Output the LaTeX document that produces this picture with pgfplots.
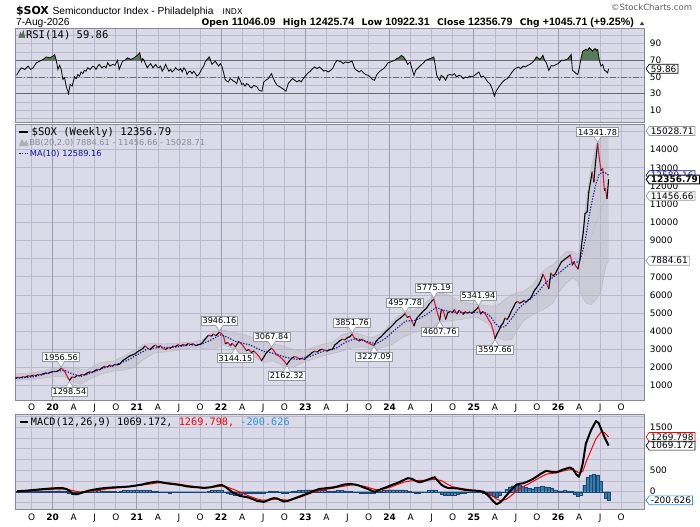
\documentclass[border=0pt]{standalone}
\usepackage{fontspec}
\usepackage{pgfplots}
\usepackage{pgfplotstable}
\pgfplotsset{compat=1.18}
\usetikzlibrary{shapes.symbols}
\setmainfont{DejaVu Sans}
\newfontfamily\lib{Liberation Sans}
\newfontfamily\dvs{DejaVu Sans}
\newfontfamily\dvm{DejaVu Sans Mono}
\newcommand\fs[1]{\fontsize{#1}{#1}\selectfont}
\newcommand\ohb{\dvs\bfseries\fs{9.2bp}}
\newcommand\ohv{\lib\fs{10.7bp}}

\definecolor{panelbg}{RGB}{218,218,232}
\definecolor{gridc}{RGB}{186,186,204}
\definecolor{yeargrid}{RGB}{155,155,176}
\definecolor{borderc}{RGB}{135,135,150}
\definecolor{pricered}{RGB}{222,20,60}
\definecolor{manavy}{RGB}{20,20,150}
\definecolor{bbline}{RGB}{186,186,196}
\definecolor{bbfill}{RGB}{178,178,184}
\definecolor{bbtext}{RGB}{140,140,152}
\definecolor{bbicon}{RGB}{175,175,185}
\definecolor{rsigreen}{RGB}{88,124,88}
\definecolor{histblue}{RGB}{52,125,170}
\definecolor{histdark}{RGB}{25,70,115}
\definecolor{histtext}{RGB}{40,150,210}
\definecolor{boxgray}{RGB}{150,150,162}
\definecolor{rsiline}{RGB}{105,105,115}

\pgfplotsset{
  panel/.style={
    scale only axis, width=633bp, anchor=south west,
    xmin=2019.564, xmax=2027.028,
    axis line style={draw=borderc, line width=0.9bp},
    major tick length=0pt, minor tick length=0pt,
    scaled x ticks=false, scaled y ticks=false,
    xtick={2019.75,2020.25,2020.5,2020.75,2021.25,2021.5,2021.75,2022.25,2022.5,2022.75,2023.25,2023.5,2023.75,2024.25,2024.5,2024.75,2025.25,2025.5,2025.75,2026.25,2026.5,2026.75},
    extra x ticks={2020,2021,2022,2023,2024,2025,2026},
    extra x tick style={major grid style={draw=yeargrid, line width=0.8bp}},
    xmajorgrids=true, ymajorgrids=true, yminorgrids=true,
    major grid style={draw=gridc, line width=0.7bp},
    minor grid style={draw=gridc, line width=0.7bp},
    yticklabel pos=right,
    yticklabel style={font=\dvs\fs{9bp}, inner sep=0pt, anchor=west, xshift=5bp},
    xticklabel style={font=\dvs\fs{9bp}, inner sep=0pt, anchor=north, yshift=-4bp},
    /pgf/number format/1000 sep={},
    /pgf/number format/assume math mode=true,
    clip=false,
  },
  xlab/.style={
    xticklabels={O,A,J,O,A,J,O,A,J,O,A,J,O,A,J,O,A,J,O,A,J,O},
    extra x tick labels={\textbf{20},\textbf{21},\textbf{22},\textbf{23},\textbf{24},\textbf{25},\textbf{26}},
  },
  nolab/.style={xticklabels={}, extra x tick labels={}},
}
\tikzset{
  rbox/.style={signal, signal to=west, signal pointer angle=110, draw=boxgray, fill=white,
    line width=0.7bp, inner xsep=1.6bp, inner ysep=1.1bp, font=\dvs\fs{9bp}, anchor=west, text=black},
  callout/.style={draw=boxgray, fill=white, line width=0.7bp, inner xsep=1.5bp, inner ysep=1.4bp,
    font=\dvs\fs{8.2bp}, text=black},
}
\newcommand\peak[3]{%
  \node[callout, anchor=south] at ([yshift=6.5bp]axis cs:#1,#2) {#3};
  \fill[white] ([shift={(-3.5bp,7bp)}]axis cs:#1,#2) -- ([yshift=1bp]axis cs:#1,#2) -- ([shift={(3.5bp,7bp)}]axis cs:#1,#2) -- cycle;
  \draw[boxgray, line width=0.6bp] ([shift={(-3.5bp,6.6bp)}]axis cs:#1,#2) -- ([yshift=1bp]axis cs:#1,#2) -- ([shift={(3.5bp,6.6bp)}]axis cs:#1,#2);
}
\newcommand\trough[3]{%
  \node[callout, anchor=north] at ([yshift=-6.5bp]axis cs:#1,#2) {#3};
  \fill[white] ([shift={(-3.5bp,-7bp)}]axis cs:#1,#2) -- ([yshift=-1bp]axis cs:#1,#2) -- ([shift={(3.5bp,-7bp)}]axis cs:#1,#2) -- cycle;
  \draw[boxgray, line width=0.6bp] ([shift={(-3.5bp,-6.6bp)}]axis cs:#1,#2) -- ([yshift=-1bp]axis cs:#1,#2) -- ([shift={(3.5bp,-6.6bp)}]axis cs:#1,#2);
}

\pgfplotstableread{
t c m
2019.56 1420 0
2019.59 1455 1
2019.62 1440 0
2019.65 1490 1
2019.68 1475 0
2019.71 1540 1
2019.74 1525 0
2019.77 1575 1
2019.80 1560 0
2019.83 1620 1
2019.86 1605 0
2019.89 1660 0
2019.92 1700 1
2019.95 1690 0
2019.98 1750 0
2020.01 1790 1
2020.04 1780 0
2020.07 1830 0
2020.10 1956.56 1
2020.13 1880 1
2020.15 1720 1
2020.18 1450 1
2020.20 1298.54 0
2020.23 1480 1
2020.26 1450 0
2020.29 1560 1
2020.32 1540 0
2020.35 1620 1
2020.38 1600 0
2020.41 1700 0
2020.44 1760 1
2020.47 1740 0
2020.50 1820 0
2020.53 1900 1
2020.56 1880 0
2020.59 2000 0
2020.62 2060 1
2020.65 2040 0
2020.68 2130 1
2020.71 2080 0
2020.74 2170 1
2020.77 2150 0
2020.80 2200 0
2020.83 2380 0
2020.86 2460 0
2020.89 2560 0
2020.92 2650 0
2020.95 2700 0
2020.98 2760 0
2021.01 2880 0
2021.04 2950 0
2021.07 3050 0
2021.10 3190 1
2021.13 3060 1
2021.16 2980 0
2021.19 3150 0
2021.22 3230 1
2021.25 3120 0
2021.28 3200 1
2021.31 3060 1
2021.34 2990 0
2021.37 3100 1
2021.40 3060 0
2021.43 3180 1
2021.46 3160 0
2021.49 3250 1
2021.52 3200 0
2021.55 3260 1
2021.58 3230 0
2021.61 3320 1
2021.64 3270 0
2021.67 3300 1
2021.70 3200 0
2021.73 3260 0
2021.76 3290 0
2021.79 3440 0
2021.82 3620 0
2021.85 3780 1
2021.88 3730 0
2021.91 3830 1
2021.94 3760 0
2021.98 3946.16 1
2022.01 3840 1
2022.03 3720 1
2022.05 3320 0
2022.08 3380 1
2022.11 3200 0
2022.13 3330 1
2022.15 3250 1
2022.17 3144.15 0
2022.21 3440 1
2022.24 3310 1
2022.27 3150 1
2022.30 2930 0
2022.33 2990 1
2022.36 2830 0
2022.39 2910 1
2022.42 2770 1
2022.45 2610 1
2022.48 2380 0
2022.51 2600 0
2022.54 2830 0
2022.57 2950 0
2022.60 3067.84 1
2022.63 2900 1
2022.66 2700 1
2022.69 2620 1
2022.72 2500 1
2022.75 2350 1
2022.78 2162.32 0
2022.81 2360 0
2022.84 2520 0
2022.87 2600 1
2022.90 2570 1
2022.93 2460 0
2022.96 2500 1
2022.99 2440 0
2023.02 2600 0
2023.05 2700 0
2023.08 2820 0
2023.11 2900 1
2023.14 2860 0
2023.17 2960 0
2023.20 3010 1
2023.23 2950 1
2023.26 2910 0
2023.29 2980 0
2023.32 2990 0
2023.35 3250 0
2023.38 3350 0
2023.41 3480 0
2023.44 3560 1
2023.47 3520 0
2023.50 3650 0
2023.53 3700 0
2023.555 3851.76 1
2023.58 3640 1
2023.61 3540 1
2023.64 3460 0
2023.67 3560 1
2023.70 3480 1
2023.73 3380 1
2023.76 3330 1
2023.79 3250 1
2023.815 3227.09 0
2023.84 3440 0
2023.87 3600 0
2023.90 3700 0
2023.93 3850 0
2023.96 4000 0
2023.99 4120 0
2024.02 4250 0
2024.05 4400 0
2024.08 4560 0
2024.12 4700 0
2024.155 4830 0
2024.185 4957.78 1
2024.21 4760 0
2024.24 4820 1
2024.265 4560 1
2024.29 4290 0
2024.32 4700 0
2024.35 4850 0
2024.38 5010 0
2024.41 5150 0
2024.44 5280 0
2024.47 5500 0
2024.50 5650 0
2024.525 5775.19 1
2024.55 5300 1
2024.575 4900 1
2024.595 4607.76 0
2024.615 5200 1
2024.64 5100 1
2024.665 4660 0
2024.69 5010 0
2024.72 5100 1
2024.745 5020 0
2024.77 5180 1
2024.80 4950 0
2024.825 5150 1
2024.85 5050 1
2024.875 4930 0
2024.90 5080 1
2024.925 5000 0
2024.95 5060 1
2024.975 4980 0
2025.00 5090 0
2025.03 5200 0
2025.055 5341.94 1
2025.08 4950 0
2025.105 5080 1
2025.13 4980 1
2025.155 4810 1
2025.18 4600 1
2025.205 4420 1
2025.23 4050 1
2025.252 3597.66 0
2025.275 3850 0
2025.295 4010 0
2025.32 4280 0
2025.345 4430 0
2025.37 4720 1
2025.395 4650 0
2025.42 4830 0
2025.445 5100 0
2025.47 5320 0
2025.495 5560 0
2025.52 5640 1
2025.545 5540 0
2025.57 5600 0
2025.595 5690 1
2025.62 5600 0
2025.645 5720 0
2025.67 5780 0
2025.695 6010 0
2025.72 6250 0
2025.745 6400 0
2025.77 6560 0
2025.795 6800 0
2025.82 7140 1
2025.845 6900 1
2025.865 6620 1
2025.89 6340 0
2025.915 7200 1
2025.94 7050 0
2025.965 7150 0
2025.99 7380 0
2026.015 7600 0
2026.04 7830 0
2026.065 7900 0
2026.09 8010 0
2026.115 8080 0
2026.145 8200 1
2026.17 7650 0
2026.19 7800 1
2026.215 7560 1
2026.235 7430 0
2026.26 7930 0
2026.28 8800 0
2026.30 9480 0
2026.32 10480 0
2026.345 10570 0
2026.365 11670 0
2026.385 12220 0
2026.405 12770 1
2026.425 12220 0
2026.445 13320 0
2026.47 14341.78 1
2026.49 13500 1
2026.51 12860 0
2026.53 12950 1
2026.55 11760 0
2026.562 11850 1
2026.581 11311.08 0
2026.60 12356.79 0
}\price

\pgfplotstableread{
t u mid l
2019.564 1640 1460 1280
2019.790 1729 1546 1364
2019.950 1900 1680 1460
2020.024 1966 1729 1492
2020.142 2000 1750 1500
2020.220 1990 1620 1250
2020.300 1960 1540 1120
2020.338 1900 1500 1100
2020.400 1860 1560 1260
2020.456 2000 1700 1400
2020.574 2276 1957 1638
2020.731 2367 2093 1820
2020.849 2640 2250 1860
2020.967 2950 2476 2002
2021.085 3279 2868 2458
2021.203 3350 3069 2790
2021.321 3300 3080 2860
2021.438 3330 3120 2910
2021.556 3370 3188 3005
2021.674 3406 3250 3100
2021.792 3552 3300 3050
2021.910 3972 3488 3005
2022.028 4050 3650 3250
2022.146 3950 3500 3050
2022.264 3826 3279 2732
2022.382 3644 3142 2640
2022.500 3461 2868 2276
2022.618 3279 2823 2367
2022.735 3188 2640 2093
2022.853 3005 2503 2002
2022.971 2900 2600 2276
2023.089 3096 2777 2458
2023.207 3279 2960 2640
2023.325 3400 3100 2780
2023.443 3826 3370 2914
2023.561 3950 3520 3096
2023.679 3780 3450 3150
2023.797 3644 3380 3000
2023.914 3917 3506 3096
2024.032 4554 3916 3279
2024.150 5010 4327 3644
2024.268 5101 4560 3900
2024.386 5375 4691 4008
2024.504 5900 4965 4190
2024.600 6104 5312 4519
2024.682 6013 5284 4555
2024.839 5648 5147 4646
2025.036 5466 5120 4774
2025.173 5400 4900 4400
2025.232 5375 4692 4008
2025.291 5466 4555 3644
2025.370 5739 4619 3498
2025.448 6013 4783 3552
2025.507 6104 5056 4008
2025.586 6195 5375 4555
2025.704 6560 5740 4920
2025.782 7107 6104 5101
2025.861 7472 6378 5283
2025.939 7654 6606 5557
2026.018 8019 7107 6195
2026.097 8383 7517 6651
2026.175 8383 7654 6925
2026.234 8201 7470 6742
2026.273 8748 7400 6013
2026.332 11119 8338 5557
2026.391 12942 9204 5466
2026.450 14218 9979 5739
2026.509 14947 10571 6195
2026.568 15130 11392 7654
2026.600 15028.71 11456.66 7884.61
}\bb

\pgfplotstableread{
t v
2019.564 1640
2019.790 1729
2019.950 1900
2020.024 1966
2020.142 2000
2020.220 1990
2020.300 1960
2020.338 1900
2020.400 1860
2020.456 2000
2020.574 2276
2020.731 2367
2020.849 2640
2020.967 2950
2021.085 3279
2021.203 3350
2021.321 3300
2021.438 3330
2021.556 3370
2021.674 3406
2021.792 3552
2021.910 3972
2022.028 4050
2022.146 3950
2022.264 3826
2022.382 3644
2022.500 3461
2022.618 3279
2022.735 3188
2022.853 3005
2022.971 2900
2023.089 3096
2023.207 3279
2023.325 3400
2023.443 3826
2023.561 3950
2023.679 3780
2023.797 3644
2023.914 3917
2024.032 4554
2024.150 5010
2024.268 5101
2024.386 5375
2024.504 5900
2024.600 6104
2024.682 6013
2024.839 5648
2025.036 5466
2025.173 5400
2025.232 5375
2025.291 5466
2025.370 5739
2025.448 6013
2025.507 6104
2025.586 6195
2025.704 6560
2025.782 7107
2025.861 7472
2025.939 7654
2026.018 8019
2026.097 8383
2026.175 8383
2026.234 8201
2026.273 8748
2026.332 11119
2026.391 12942
2026.450 14218
2026.509 14947
2026.568 15130
2026.600 15028.71
2026.600 7884.61
2026.568 7654
2026.509 6195
2026.450 5739
2026.391 5466
2026.332 5557
2026.273 6013
2026.234 6742
2026.175 6925
2026.097 6651
2026.018 6195
2025.939 5557
2025.861 5283
2025.782 5101
2025.704 4920
2025.586 4555
2025.507 4008
2025.448 3552
2025.370 3498
2025.291 3644
2025.232 4008
2025.173 4400
2025.036 4774
2024.839 4646
2024.682 4555
2024.600 4519
2024.504 4190
2024.386 4008
2024.268 3900
2024.150 3644
2024.032 3279
2023.914 3096
2023.797 3000
2023.679 3150
2023.561 3096
2023.443 2914
2023.325 2780
2023.207 2640
2023.089 2458
2022.971 2276
2022.853 2002
2022.735 2093
2022.618 2367
2022.500 2276
2022.382 2640
2022.264 2732
2022.146 3050
2022.028 3250
2021.910 3005
2021.792 3050
2021.674 3100
2021.556 3005
2021.438 2910
2021.321 2860
2021.203 2790
2021.085 2458
2020.967 2002
2020.849 1860
2020.731 1820
2020.574 1638
2020.456 1400
2020.400 1260
2020.338 1100
2020.300 1120
2020.220 1250
2020.142 1500
2020.024 1492
2019.950 1460
2019.790 1364
2019.564 1280
}\bbpoly

\pgfplotstableread{
t v
2019.564 1400
2019.790 1500
2020.024 1783
2020.142 1840
2020.240 1640
2020.340 1520
2020.460 1700
2020.610 1980
2020.730 2120
2020.890 2400
2021.010 2720
2021.130 3040
2021.280 3100
2021.440 3110
2021.600 3220
2021.760 3270
2021.870 3500
2021.990 3800
2022.060 3700
2022.180 3420
2022.340 3250
2022.500 2900
2022.620 2780
2022.770 2560
2022.890 2450
2023.050 2600
2023.210 2900
2023.360 3050
2023.480 3400
2023.600 3600
2023.720 3450
2023.840 3300
2023.950 3600
2024.070 4100
2024.190 4560
2024.310 4600
2024.430 4900
2024.550 5300
2024.650 5150
2024.750 5050
2024.900 5020
2025.050 5050
2025.120 5070
2025.200 4800
2025.250 4450
2025.310 4200
2025.370 4250
2025.450 4700
2025.530 5250
2025.620 5620
2025.740 6050
2025.860 6700
2025.980 7100
2026.100 7550
2026.180 7830
2026.250 7800
2026.290 8360
2026.330 9180
2026.370 10390
2026.410 11300
2026.450 12130
2026.490 12680
2026.550 12770
2026.600 12589.16
}\maten

\pgfplotstableread{
t v
2019.572 52
2019.600 57
2019.630 61
2019.670 59
2019.709 63
2019.740 59
2019.768 61
2019.807 67
2019.847 69
2019.886 71
2019.925 74
2019.965 73
2020.004 75
2020.024 77
2020.043 70
2020.063 59
2020.083 64
2020.102 59
2020.122 47
2020.142 49
2020.161 39
2020.189 30
2020.208 41
2020.232 39
2020.259 50
2020.280 48
2020.299 53
2020.320 51
2020.338 56
2020.358 54
2020.377 58
2020.397 57
2020.417 61
2020.445 59
2020.476 63
2020.495 62
2020.515 59
2020.535 63
2020.554 65
2020.585 61
2020.613 63
2020.635 61
2020.653 67
2020.680 63
2020.712 65
2020.740 64
2020.770 70
2020.790 59
2020.810 64
2020.830 69
2020.860 70
2020.888 73
2020.928 71
2020.967 73
2021.006 76
2021.034 79
2021.057 68
2021.070 72
2021.085 70
2021.105 65
2021.124 61
2021.145 64
2021.164 66
2021.191 61
2021.223 65
2021.242 62
2021.262 61
2021.280 63
2021.301 57
2021.320 60
2021.341 65
2021.360 61
2021.380 57
2021.400 59
2021.419 56
2021.440 58
2021.459 61
2021.480 59
2021.498 58
2021.520 60
2021.537 56
2021.558 61
2021.580 58
2021.596 53
2021.615 56
2021.635 57
2021.655 54
2021.675 57
2021.695 54
2021.714 51
2021.735 53
2021.753 56
2021.773 60
2021.793 63
2021.812 68
2021.832 71
2021.860 74
2021.875 70
2021.891 65
2021.910 67
2021.930 69
2021.950 66
2021.970 63
2021.990 66
2022.009 63
2022.030 55
2022.048 47
2022.068 45
2022.087 44
2022.107 48
2022.127 47
2022.146 45
2022.166 44
2022.185 42
2022.205 50
2022.225 46
2022.245 41
2022.264 42
2022.284 39
2022.303 42
2022.323 41
2022.343 38
2022.363 37
2022.390 40
2022.428 38
2022.450 34
2022.485 33
2022.507 44
2022.530 46
2022.560 48
2022.585 52
2022.600 54
2022.612 50
2022.640 44
2022.665 40
2022.700 38
2022.744 35
2022.770 33
2022.797 42
2022.820 45
2022.849 48
2022.875 46
2022.900 44
2022.928 46
2022.950 44
2022.975 48
2023.007 52
2023.035 55
2023.060 57
2023.086 60
2023.110 62
2023.140 60
2023.165 62
2023.190 60
2023.220 57
2023.244 58
2023.270 56
2023.300 58
2023.323 60
2023.350 66
2023.376 70
2023.400 69
2023.428 68
2023.450 66
2023.475 68
2023.507 67
2023.530 68
2023.555 69
2023.586 60
2023.610 58
2023.640 56
2023.665 58
2023.690 55
2023.715 53
2023.744 52
2023.770 50
2023.797 47
2023.820 46
2023.850 53
2023.875 56
2023.900 58
2023.928 60
2023.955 63
2023.981 67
2024.010 68
2024.035 69
2024.060 70
2024.085 72
2024.110 73
2024.139 76
2024.165 74
2024.192 70
2024.215 65
2024.244 68
2024.265 60
2024.290 52
2024.310 58
2024.330 60
2024.350 62
2024.380 65
2024.405 67
2024.428 70
2024.455 71
2024.480 72
2024.507 73
2024.525 74
2024.545 62
2024.560 52
2024.580 48
2024.595 46
2024.613 52
2024.640 50
2024.665 46
2024.690 52
2024.715 53
2024.744 52
2024.770 54
2024.795 50
2024.823 52
2024.850 51
2024.875 48
2024.902 50
2024.925 49
2024.950 51
2024.981 50
2025.010 52
2025.035 54
2025.060 56
2025.085 50
2025.113 51
2025.140 48
2025.165 44
2025.190 42
2025.218 36
2025.244 27
2025.265 33
2025.297 38
2025.325 42
2025.350 45
2025.375 47
2025.400 48
2025.428 52
2025.455 56
2025.480 59
2025.507 61
2025.530 62
2025.555 60
2025.586 63
2025.610 62
2025.640 64
2025.665 65
2025.690 67
2025.720 70
2025.743 74
2025.760 73
2025.780 71
2025.800 73
2025.820 76
2025.840 70
2025.860 67
2025.890 58
2025.920 64
2025.940 63
2025.960 64
2025.980 65
2026.000 66
2026.020 68
2026.040 70
2026.070 70
2026.100 71
2026.120 72
2026.140 75
2026.156 77
2026.170 58
2026.195 56
2026.215 54
2026.234 53
2026.255 62
2026.270 71
2026.293 81
2026.310 82
2026.330 83
2026.350 82
2026.370 85
2026.390 83
2026.410 81
2026.425 83
2026.440 84
2026.455 82
2026.470 83
2026.490 70
2026.510 63
2026.530 65
2026.550 58
2026.568 57
2026.588 55
2026.600 59.86
}\rsi

\pgfplotstableread{
t v
2019.575 10
2019.691 24
2019.800 45
2019.901 62
2020.000 78
2020.112 86
2020.165 62
2020.205 10
2020.244 -55
2020.290 -60
2020.323 -40
2020.370 -10
2020.428 24
2020.510 55
2020.586 78
2020.665 92
2020.744 102
2020.820 108
2020.902 118
2020.980 140
2021.059 165
2021.110 190
2021.165 212
2021.244 235
2021.300 215
2021.349 196
2021.420 180
2021.481 165
2021.530 150
2021.586 126
2021.650 112
2021.718 102
2021.796 86
2021.875 102
2021.954 141
2022.007 157
2022.059 102
2022.100 40
2022.138 -16
2022.180 -60
2022.218 -94
2022.270 -115
2022.323 -134
2022.380 -175
2022.428 -213
2022.507 -236
2022.550 -205
2022.586 -173
2022.625 -150
2022.665 -157
2022.705 -195
2022.744 -229
2022.790 -215
2022.849 -173
2022.900 -135
2022.955 -94
2023.010 -55
2023.060 -16
2023.110 25
2023.165 62
2023.220 75
2023.270 86
2023.320 95
2023.376 118
2023.455 165
2023.534 180
2023.590 165
2023.639 141
2023.690 100
2023.744 62
2023.790 20
2023.823 0
2023.860 25
2023.902 62
2023.955 100
2024.007 141
2024.060 180
2024.113 220
2024.165 270
2024.218 314
2024.270 298
2024.310 250
2024.349 220
2024.390 235
2024.428 259
2024.480 300
2024.534 337
2024.570 260
2024.613 165
2024.650 120
2024.692 86
2024.740 82
2024.797 78
2024.850 58
2024.902 39
2024.955 30
2025.007 24
2025.060 18
2025.113 0
2025.150 -50
2025.192 -134
2025.230 -220
2025.271 -291
2025.310 -250
2025.350 -173
2025.390 -80
2025.428 8
2025.470 90
2025.507 165
2025.545 185
2025.586 196
2025.625 225
2025.665 259
2025.705 300
2025.743 346
2025.800 423
2025.860 485
2025.920 460
2025.980 450
2026.060 515
2026.140 561
2026.175 530
2026.215 408
2026.246 346
2026.270 470
2026.293 653
2026.330 1115
2026.390 1423
2026.450 1640
2026.480 1600
2026.510 1461
2026.550 1269
2026.600 1069.172
}\macd

\pgfplotstableread{
t v
2019.575 0
2019.740 25
2019.901 47
2020.030 58
2020.165 62
2020.230 30
2020.296 0
2020.360 -8
2020.428 0
2020.530 35
2020.638 62
2020.770 90
2020.902 118
2021.030 150
2021.165 180
2021.250 205
2021.323 212
2021.400 200
2021.481 180
2021.590 148
2021.691 118
2021.800 100
2021.902 102
2021.970 120
2022.033 133
2022.100 90
2022.165 39
2022.240 -25
2022.323 -94
2022.400 -150
2022.481 -197
2022.560 -195
2022.639 -173
2022.720 -185
2022.797 -197
2022.880 -160
2022.955 -118
2023.030 -60
2023.112 0
2023.190 35
2023.270 62
2023.350 90
2023.428 118
2023.510 145
2023.586 165
2023.665 140
2023.744 102
2023.810 60
2023.876 39
2023.940 65
2024.007 102
2024.085 160
2024.165 220
2024.245 250
2024.323 259
2024.400 265
2024.481 275
2024.550 285
2024.613 259
2024.680 180
2024.744 118
2024.820 85
2024.902 62
2024.980 40
2025.060 24
2025.140 -20
2025.218 -94
2025.270 -170
2025.323 -213
2025.380 -180
2025.428 -118
2025.480 -30
2025.533 62
2025.600 130
2025.665 196
2025.743 285
2025.861 408
2025.979 438
2026.097 500
2026.175 515
2026.254 438
2026.293 470
2026.333 692
2026.391 962
2026.450 1230
2026.510 1385
2026.550 1375
2026.600 1269.798
}\sig

\pgfplotstableread{
t h
2019.580 10
2019.618 12
2019.657 15
2019.695 14
2019.734 18
2019.772 20
2019.811 18
2019.849 22
2019.888 20
2019.926 18
2019.965 22
2020.003 20
2020.042 18
2020.080 22
2020.118 20
2020.157 5
2020.195 -30
2020.234 -50
2020.272 -45
2020.311 -30
2020.349 -10
2020.388 10
2020.426 20
2020.465 25
2020.503 28
2020.542 25
2020.580 22
2020.618 20
2020.657 15
2020.695 10
2020.734 5
2020.772 0
2020.811 10
2020.849 25
2020.888 30
2020.926 35
2020.965 38
2021.003 40
2021.042 38
2021.080 35
2021.118 30
2021.157 25
2021.195 15
2021.234 5
2021.272 -5
2021.311 -15
2021.349 -20
2021.388 -25
2021.426 -20
2021.465 -18
2021.503 -15
2021.542 -10
2021.580 -12
2021.618 -15
2021.657 -18
2021.695 -20
2021.734 -15
2021.772 -10
2021.811 0
2021.849 15
2021.888 25
2021.926 35
2021.965 35
2022.003 25
2022.042 0
2022.080 -30
2022.118 -55
2022.157 -70
2022.195 -65
2022.234 -55
2022.272 -45
2022.311 -40
2022.349 -35
2022.388 -30
2022.426 -25
2022.465 -30
2022.503 -25
2022.542 0
2022.580 20
2022.618 15
2022.657 5
2022.695 -10
2022.734 -25
2022.772 -30
2022.811 -15
2022.849 5
2022.888 20
2022.926 30
2022.965 35
2023.003 40
2023.042 45
2023.080 45
2023.118 40
2023.157 35
2023.195 30
2023.234 25
2023.272 20
2023.311 15
2023.349 20
2023.388 25
2023.426 25
2023.465 20
2023.503 15
2023.542 10
2023.580 -5
2023.618 -20
2023.657 -30
2023.695 -40
2023.734 -45
2023.772 -45
2023.811 -35
2023.849 -15
2023.888 10
2023.926 25
2023.965 35
2024.003 40
2024.042 45
2024.080 45
2024.118 40
2024.157 40
2024.195 35
2024.234 15
2024.272 -10
2024.311 -30
2024.349 -35
2024.388 -20
2024.426 0
2024.465 25
2024.503 45
2024.542 40
2024.580 0
2024.618 -50
2024.657 -80
2024.695 -90
2024.734 -80
2024.772 -70
2024.811 -55
2024.849 -40
2024.888 -30
2024.926 -20
2024.965 -15
2025.003 -10
2025.042 -5
2025.080 -10
2025.118 -25
2025.157 -50
2025.195 -80
2025.234 -110
2025.272 -130
2025.311 -80
2025.349 0
2025.388 60
2025.426 110
2025.465 140
2025.503 150
2025.542 145
2025.580 125
2025.618 100
2025.657 80
2025.695 70
2025.734 100
2025.772 110
2025.811 120
2025.849 110
2025.888 100
2025.926 90
2025.965 40
2026.003 20
2026.042 20
2026.080 25
2026.118 20
2026.157 10
2026.195 -60
2026.234 -110
2026.272 -70
2026.311 150
2026.349 340
2026.388 380
2026.426 400
2026.465 390
2026.503 250
2026.542 0
2026.570 -150
2026.600 -200.626
}\hist

\begin{document}
\begin{tikzpicture}
\path[fill=white] (0,0) rectangle (700bp,530bp);
% panel backgrounds
\fill[panelbg] (16bp,407bp) rectangle (649bp,501.7bp);
\fill[panelbg] (16bp,127.3bp) rectangle (649bp,404.7bp);
\fill[panelbg] (16bp,16.7bp) rectangle (649bp,112.7bp);

% ---------------- RSI panel
\begin{axis}[panel, nolab, at={(16bp,407bp)}, height=94.7bp,
  ymin=-4.2, ymax=108.6, ytick={10,30,50,70,90}, minor ytick={0,20,40,60,80,100}]
  \addplot[fill=rsigreen, draw=none] coordinates {(2019.866,70) (2019.886,71) (2019.925,74) (2019.965,73) (2020.004,75) (2020.024,77) (2020.043,70)};
  \addplot[fill=rsigreen, draw=none] coordinates {(2020.860,70) (2020.888,73) (2020.928,71) (2020.967,73) (2021.006,76) (2021.034,79) (2021.053,70)};
  \addplot[fill=rsigreen, draw=none] coordinates {(2021.0635,70) (2021.070,72) (2021.085,70)};
  \addplot[fill=rsigreen, draw=none] coordinates {(2021.825,70) (2021.832,71) (2021.860,74) (2021.875,70)};
  \addplot[fill=rsigreen, draw=none] coordinates {(2024.060,70) (2024.085,72) (2024.110,73) (2024.139,76) (2024.165,74) (2024.192,70)};
  \addplot[fill=rsigreen, draw=none] coordinates {(2024.428,70) (2024.455,71) (2024.480,72) (2024.507,73) (2024.525,74) (2024.532,70)};
  \addplot[fill=rsigreen, draw=none] coordinates {(2025.720,70) (2025.743,74) (2025.760,73) (2025.780,71) (2025.800,73) (2025.820,76) (2025.840,70)};
  \addplot[fill=rsigreen, draw=none] coordinates {(2026.070,70) (2026.100,71) (2026.120,72) (2026.140,75) (2026.156,77) (2026.161,70)};
  \addplot[fill=rsigreen, draw=none] coordinates {(2026.268,70) (2026.270,71) (2026.293,81) (2026.310,82) (2026.330,83) (2026.350,82) (2026.370,85) (2026.390,83) (2026.410,81) (2026.425,83) (2026.440,84) (2026.455,82) (2026.470,83) (2026.490,70)};
  \draw[rsiline, line width=0.9bp] (axis cs:2019.564,70) -- (axis cs:2027.028,70);
  \draw[rsiline, line width=0.9bp] (axis cs:2019.564,30) -- (axis cs:2027.028,30);
  \draw[rsiline, line width=0.8bp, dash pattern=on 6bp off 2bp on 1.5bp off 2bp] (axis cs:2019.564,50) -- (axis cs:2027.028,50);
  \addplot[black, line width=0.8bp] table[x=t,y=v]{\rsi};
  \node[rbox, draw=black] at ([xshift=1bp]axis cs:2027.028,59.86) {59.86};
\end{axis}

% ---------------- price panel
\begin{axis}[panel, xlab, at={(16bp,127.3bp)}, height=277.4bp,
  ymin=212, ymax=15389, ytick={1000,2000,3000,4000,5000,6000,7000,8000,9000,10000,11000,12000,13000,14000,15000},
  yticklabels={1000,2000,3000,4000,5000,6000,7000,,9000,10000,11000,12000,13000,14000,}]
  \addplot[fill=bbfill, fill opacity=0.33, draw=none] table[x=t,y=v]{\bbpoly} -- cycle;
  \addplot[draw=bbline, line width=0.5bp] table[x=t,y=u]{\bb};
  \addplot[draw=bbline, line width=0.5bp] table[x=t,y=l]{\bb};
  \addplot[draw=bbline, line width=0.7bp, dash pattern=on 1.2bp off 1.6bp] table[x=t,y=mid]{\bb};
  \addplot[mesh, shader=flat corner, point meta=explicit, point meta min=0, point meta max=1,
    colormap={updown}{color=(black) color=(pricered)}, line width=1.1bp, line join=round, line cap=round]
    table[x=t,y=c,meta=m]{\price};
  \addplot[manavy, line width=1.1bp, dash pattern=on 1.3bp off 1.5bp] table[x=t,y=v]{\maten};
  \peak{2020.10}{1956.56}{1956.56}
  \trough{2020.20}{1298.54}{1298.54}
  \peak{2021.98}{3946.16}{3946.16}
  \trough{2022.17}{3144.15}{3144.15}
  \peak{2022.60}{3067.84}{3067.84}
  \trough{2022.78}{2162.32}{2162.32}
  \peak{2023.555}{3851.76}{3851.76}
  \trough{2023.815}{3227.09}{3227.09}
  \peak{2024.185}{4957.78}{4957.78}
  \trough{2024.595}{4607.76}{4607.76}
  \peak{2024.525}{5775.19}{5775.19}
  \peak{2025.055}{5341.94}{5341.94}
  \trough{2025.252}{3597.66}{3597.66}
  \peak{2026.47}{14341.78}{14341.78}
  \node[rbox] at ([xshift=1bp]axis cs:2027.028,15028.71) {15028.71};
  \node[rbox] at ([xshift=1bp]axis cs:2027.028,7884.61) {7884.61};
  \node[rbox] at ([xshift=1bp]axis cs:2027.028,11456.66) {11456.66};
  \node[rbox, draw=manavy, text=manavy] at ([xshift=1bp]axis cs:2027.028,12589.16) {12589.16};
  \node[rbox, draw=black, line width=1bp, font=\dvs\bfseries\fs{9bp}] at ([xshift=1bp]axis cs:2027.028,12356.79) {12356.79};
\end{axis}

% ---------------- MACD panel
\begin{axis}[panel, xlab, at={(16bp,16.7bp)}, height=96bp,
  ymin=-422, ymax=1793, ytick={0,500,1000,1500}, yticklabels={0,500,,1500}, minor ytick={-250,250,750,1250,1750}]
  \addplot[ybar, bar width=3.1bp, bar shift=0pt, fill=histblue, draw=histdark, line width=0.3bp] table[x=t,y=h]{\hist};
  \addplot[red, line width=1bp] table[x=t,y=v]{\sig};
  \addplot[black, line width=2bp, line join=round] table[x=t,y=v]{\macd};
  \node[rbox, draw=red] at ([xshift=1bp]axis cs:2027.028,1269.798) {1269.798};
  \node[rbox, draw=black] at ([xshift=1bp]axis cs:2027.028,1069.172) {1069.172};
  \node[rbox, draw=histtext] at ([xshift=1bp]axis cs:2027.028,-200.626) {-200.626};
\end{axis}

% ---------------- header
\node[anchor=base west, inner sep=0] at (16bp,515bp) {\dvs\bfseries\fs{11bp}\$SOX};
\node[anchor=base west, inner sep=0] at (52.7bp,515bp) {\lib\fs{10.3bp}Semiconductor Index - Philadelphia};
\node[anchor=base west, inner sep=0] at (224bp,515bp) {\dvs\fs{8bp}INDX};
\node[anchor=base east, inner sep=0, text={rgb,255:red,95;green,95;blue,95}] at (697bp,519.5bp) {\dvs\fs{8.6bp}©StockCharts.com};
\node[anchor=base west, inner sep=0] at (16bp,504bp) {\lib\fs{10.3bp}7-Aug-2026};
\node[anchor=base east, inner sep=0] at (638.3bp,504bp) {\ohb Open \ohv 11046.09\hspace{4.5bp} \ohb High \ohv 12425.74\hspace{4.5bp} \ohb Low \ohv 10922.31\hspace{4.5bp} \ohb Close \ohv 12356.79\hspace{4.5bp} \ohb Chg \ohv +1045.71 (+9.25\%)};
\fill[black!75] (644bp,504.6bp) -- (648.7bp,504.6bp) -- (646.35bp,508.3bp) -- cycle;

% RSI legend
\filldraw[fill=rsigreen, draw=black!70, line width=0.4bp] (19bp,492bp) -- (20.5bp,497.5bp) -- (22bp,494.5bp) -- (23.5bp,499bp) -- (25bp,492bp) -- cycle;
\node[anchor=base west, inner sep=0] at (26bp,491.6bp) {\dvm\fs{10.6bp}RSI(14) 59.86};

% price legend
\draw[black, line width=2.2bp] (19.5bp,397.3bp) -- (28bp,397.3bp);
\node[anchor=base west, inner sep=0] at (31.7bp,393.4bp) {\dvm\fs{10.6bp}\$SOX (Weekly) 12356.79};
\fill[bbicon] (19bp,383bp) -- (22bp,390bp) -- (24.5bp,386bp) -- (26.5bp,389bp) -- (29bp,383bp) -- cycle;
\node[anchor=base west, inner sep=0, text=bbtext] at (29.3bp,383.8bp) {\dvs\fs{8.3bp}BB(20,2.0) 7884.61 - 11456.66 - 15028.71};
\draw[manavy, line width=1.2bp, dash pattern=on 1.3bp off 1.3bp] (19.5bp,375.7bp) -- (29bp,375.7bp);
\node[anchor=base west, inner sep=0, text=manavy] at (30bp,372.8bp) {\dvs\fs{8.3bp}MA(10) 12589.16};

% MACD legend
\draw[black, line width=2.2bp] (20bp,105bp) -- (28bp,105bp);
\node[anchor=base west, inner sep=0] at (31bp,101.2bp) {\dvm\fs{10.3bp}MACD(12,26,9) 1069.172, \textcolor{red}{1269.798,} \textcolor{histtext}{-200.626}};
\end{tikzpicture}
\end{document}
